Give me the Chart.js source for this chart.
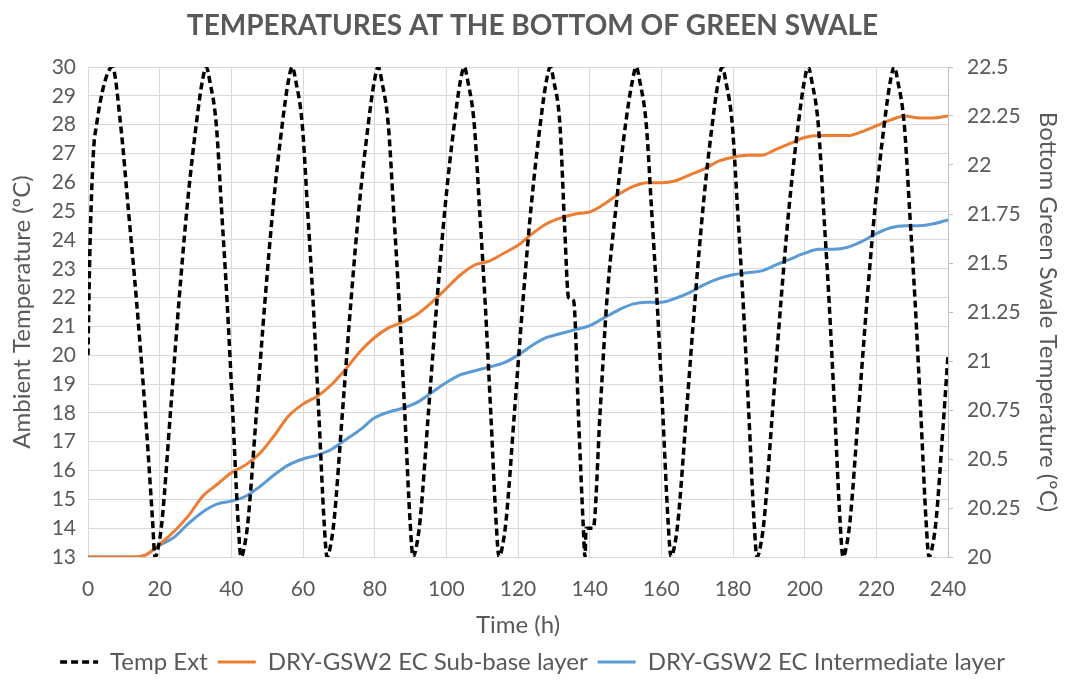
<!DOCTYPE html>
<html>
<head>
<meta charset="utf-8">
<script src="https://cdn.jsdelivr.net/npm/chart.js@4"></script>
<style>
  html, body { margin: 0; padding: 0; background: #fff; }
  #wrap { width: 1065px; height: 680px; }
</style>
</head>
<body>
<div id="wrap"><canvas id="chart" width="1065" height="680"></canvas></div>
<script>
// Temp Ext (left axis)
const extHours = [
  0, 0.5, 1.5, 2.4, 4.5, 6.8, 9.1, 11.3, 13.6, 16.4, 18.0, 18.7,
  19.7, 20.7, 23.0, 25.4, 27.7, 30.2, 31.9, 33.0, 34.0, 35.8, 37.3, 38.8, 40.4, 41.9, 42.7,
  43.7, 44.7, 47.0, 49.4, 51.7, 54.2, 55.9, 57.0, 58.0, 59.8, 61.3, 62.8, 64.4, 65.9, 66.7,
  67.7, 68.7, 71.0, 73.4, 75.7, 78.2, 79.9, 81.0, 82.0, 83.8, 85.3, 86.8, 88.4, 89.9, 90.7,
  91.7, 92.7, 95.0, 97.4, 99.7, 102.2, 103.9, 105.0, 106.0, 107.8, 109.3, 110.8, 112.4, 113.9, 114.7,
  115.7, 116.7, 119.0, 121.4, 123.7, 126.2, 127.9, 129.0, 130.0, 131.7, 133.0, 134.1, 135.5, 137.0, 138.2, 138.7,
  139.0, 141.0, 142.9, 144.8, 147.4, 150.0, 151.9, 153.0, 154.0, 155.8, 157.3, 158.8, 160.4, 161.9, 162.7,
  163.7, 164.7, 167.0, 169.4, 171.7, 174.2, 175.9, 177.0, 178.0, 179.8, 181.3, 182.8, 184.4, 185.9, 186.7,
  187.7, 188.7, 191.0, 193.4, 195.7, 198.2, 199.9, 201.0, 202.0, 203.8, 205.3, 206.8, 208.4, 209.9, 210.7,
  211.7, 212.7, 215.0, 217.4, 219.7, 222.2, 223.9, 225.0, 226.0, 227.8, 229.3, 230.8, 232.4, 233.9, 234.7,
  235.7, 236.7, 238.5, 240
];
const extTemp = [
  20, 23.5, 27, 28, 29.4, 30, 28, 25, 21.8, 17.3, 14.3, 13,
  13.4, 14.3, 18, 21.9, 25.2, 28, 29.5, 30, 29.5, 28, 25, 21.9, 18, 14.2, 13,
  13.4, 14.3, 18, 21.9, 25.2, 28, 29.5, 30, 29.5, 28, 25, 21.9, 18, 14.2, 13,
  13.4, 14.3, 18, 21.9, 25.2, 28, 29.5, 30, 29.5, 28, 25, 21.9, 18, 14.2, 13,
  13.4, 14.3, 18, 21.9, 25.2, 28, 29.5, 30, 29.5, 28, 25, 21.9, 18, 14.2, 13,
  13.4, 14.3, 18, 21.9, 25.2, 28, 29.5, 30, 29.5, 28, 24.5, 22, 21.9, 17.5, 14.1, 13,
  14, 14, 18, 21.9, 25.2, 28, 29.5, 30, 29.5, 28, 25, 21.9, 18, 14.2, 13,
  13.4, 14.3, 18, 21.9, 25.2, 28, 29.5, 30, 29.5, 28, 25, 21.9, 18, 14.2, 13,
  13.4, 14.3, 18, 21.9, 25.2, 28, 29.5, 30, 29.5, 28, 25, 21.9, 18, 14.2, 13,
  13.4, 14.3, 18, 21.9, 25.2, 28, 29.5, 30, 29.5, 28, 25, 21.9, 18, 14.2, 13,
  13.4, 14.3, 17.3, 20
];

// green swale series (right axis), every 4 h
const ecHours = [
  0, 4, 8, 12, 16, 20, 24, 28, 32, 36, 40, 44, 48, 52, 56, 60,
  64, 68, 72, 76, 80, 84, 88, 92, 96, 100, 104, 108, 112, 116, 120, 124,
  128, 132, 136, 140, 144, 148, 152, 156, 160, 164, 168, 172, 176, 180, 184, 188,
  192, 196, 200, 204, 208, 212, 216, 220, 224, 228, 232, 236, 240
];
const subBase = [
  20, 20, 20, 20, 20.01, 20.065, 20.13, 20.21, 20.31, 20.37, 20.43, 20.47, 20.53, 20.62, 20.72, 20.78,
  20.82, 20.88, 20.96, 21.05, 21.12, 21.17, 21.2, 21.24, 21.3, 21.37, 21.44, 21.49, 21.51, 21.55, 21.59, 21.65,
  21.7, 21.73, 21.75, 21.76, 21.8, 21.85, 21.89, 21.91, 21.91, 21.92, 21.95, 21.98, 22.02, 22.04, 22.05, 22.05,
  22.08, 22.11, 22.14, 22.15, 22.15, 22.15, 22.17, 22.2, 22.23, 22.25, 22.24, 22.24, 22.25
];
const intermediate = [
  20, 20, 20, 20, 20.01, 20.06, 20.1, 20.17, 20.23, 20.27, 20.285, 20.31, 20.36, 20.42, 20.47, 20.5,
  20.52, 20.55, 20.6, 20.65, 20.71, 20.74, 20.76, 20.79, 20.84, 20.89, 20.93, 20.95, 20.97, 20.99, 21.03, 21.08,
  21.12, 21.14, 21.16, 21.18, 21.22, 21.26, 21.29, 21.3, 21.3, 21.32, 21.35, 21.39, 21.42, 21.44, 21.45, 21.46,
  21.49, 21.52, 21.55, 21.57, 21.57, 21.58, 21.61, 21.65, 21.68, 21.69, 21.69, 21.7, 21.72
];

const seriesNames = ["Temp Ext", "DRY-GSW2 EC Sub-base layer", "DRY-GSW2 EC Intermediate layer"];

const pts = (xs, ys) => xs.map((x, i) => ({ x: x, y: ys[i] }));

const FONT = "Lato, 'Open Sans', sans-serif";
const GREY = "#595959";
const GRID = "#d9d9d9";

// legend samples as line segments, keeping the dash of each dataset
function legendLabels(chart) {
  const items = Chart.defaults.plugins.legend.labels.generateLabels(chart);
  return items.map(item => {
    const ds = chart.data.datasets[item.datasetIndex];
    item.lineDash = ds.borderDash || [];
    item.lineWidth = ds.borderWidth;
    item.strokeStyle = ds.borderColor;
    return item;
  });
}

new Chart(document.getElementById("chart"), {
  type: "line",
  data: {
    datasets: [
      {
        label: seriesNames[0],
        data: pts(extHours, extTemp),
        yAxisID: "y",
        borderColor: "#000000",
        borderWidth: 3.5,
        borderDash: [7, 4],
        pointRadius: 0,
        pointStyle: "line",
        cubicInterpolationMode: "monotone"
      },
      {
        label: seriesNames[1],
        data: pts(ecHours, subBase),
        yAxisID: "y1",
        borderColor: "#ed7d31",
        borderWidth: 3,
        pointRadius: 0,
        pointStyle: "line",
        cubicInterpolationMode: "monotone"
      },
      {
        label: seriesNames[2],
        data: pts(ecHours, intermediate),
        yAxisID: "y1",
        borderColor: "#5b9bd5",
        borderWidth: 3,
        pointRadius: 0,
        pointStyle: "line",
        cubicInterpolationMode: "monotone"
      }
    ]
  },
  options: {
    responsive: false,
    animation: false,
    layout: { padding: { left: 0, right: 0, top: 0, bottom: -4 } },
    plugins: {
      title: {
        display: true,
        text: "TEMPERATURES AT THE BOTTOM OF GREEN SWALE",
        color: GREY,
        font: { family: FONT, size: 28, weight: "bold" },
        padding: { top: 9, bottom: 24.4 }
      },
      legend: {
        position: "bottom",
        labels: {
          color: GREY,
          font: { family: FONT, size: 24 },
          usePointStyle: true,
          pointStyle: "line",
          pointStyleWidth: 38,
          boxHeight: 6,
          padding: 10,
          generateLabels: legendLabels
        }
      },
      tooltip: { enabled: false }
    },
    scales: {
      x: {
        type: "linear",
        min: 0,
        max: 240,
        afterFit: s => { s.height = 83; },
        ticks: { stepSize: 20, color: GREY, font: { family: FONT, size: 21 }, padding: 20 },
        grid: { color: GRID, drawTicks: false },
        border: { color: GRID },
        title: { display: true, text: "Time (h)", color: GREY, font: { family: FONT, size: 24 }, padding: 0 }
      },
      y: {
        position: "left",
        min: 13,
        max: 30,
        afterFit: s => { s.width = 88; },
        ticks: { stepSize: 1, color: GREY, font: { family: FONT, size: 21 }, padding: 12 },
        grid: { color: GRID, drawTicks: false },
        border: { color: GRID },
        title: { display: true, text: "Ambient Temperature (ºC)", color: GREY, font: { family: FONT, size: 24 }, padding: { top: 8, bottom: 0 } }
      },
      y1: {
        position: "right",
        min: 20,
        max: 22.5,
        afterFit: s => { s.width = 117; },
        ticks: {
          stepSize: 0.25,
          color: GREY,
          font: { family: FONT, size: 21 },
          padding: 14,
          callback: v => String(+v.toFixed(2))
        },
        grid: { drawOnChartArea: false, color: "#bfbfbf", tickLength: 5 },
        border: { color: "#bfbfbf" },
        title: { display: true, text: "Bottom Green Swale Temperature (ºC)", color: GREY, font: { family: FONT, size: 24 }, padding: { top: 3, bottom: 0 } }
      }
    }
  }
});
</script>
</body>
</html>
